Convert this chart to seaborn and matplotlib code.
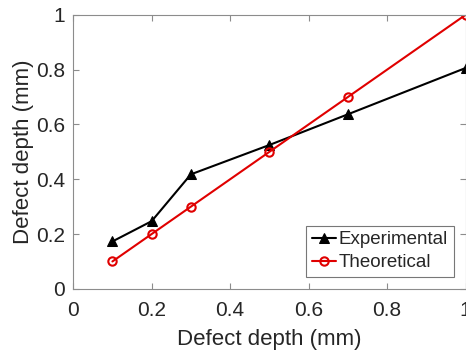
import numpy as np
import pandas as pd
import matplotlib
matplotlib.use("Agg")
import matplotlib.pyplot as plt
import seaborn as sns

# --- data ---
depth_true = [0.1, 0.2, 0.3, 0.5, 0.7, 1.0]
experimental = [0.173, 0.247, 0.418, 0.525, 0.637, 0.806]
theoretical = [0.1, 0.2, 0.3, 0.5, 0.7, 1.0]
tick_vals = [0, 0.2, 0.4, 0.6, 0.8, 1]
tick_labels = ["0", "0.2", "0.4", "0.6", "0.8", "1"]

sns.set_style("white")
plt.rcParams['font.family'] = ['Liberation Sans', 'DejaVu Sans']

text_col = "#262626"
fig = plt.figure(figsize=(4.66, 3.54), dpi=100)
ax = fig.add_axes([0.157, 0.184, 0.842, 0.774])

sns.lineplot(x=depth_true, y=experimental, ax=ax, color="black", lw=1.5,
             marker="^", markersize=7, markerfacecolor="black",
             markeredgecolor="black", label="Experimental")
sns.lineplot(x=depth_true, y=theoretical, ax=ax, color="#e00000", lw=1.5,
             marker="o", markersize=6, markerfacecolor="none",
             markeredgecolor="#e00000", markeredgewidth=1.5, label="Theoretical")

ax.set_xlim(0, 1)
ax.set_ylim(0, 1)
ax.set_xticks(tick_vals)
ax.set_xticklabels(tick_labels)
ax.set_yticks(tick_vals)
ax.set_yticklabels(tick_labels)
for sp in ax.spines.values():
    sp.set_color("#8c8c8c")
    sp.set_linewidth(0.8)
ax.tick_params(direction="in", length=4, width=0.8, color="#8c8c8c",
               labelsize=15, labelcolor=text_col, top=True, right=True,
               bottom=True, left=True)
ax.tick_params(axis="x", pad=9)
ax.tick_params(axis="y", pad=6)
ax.set_xlabel("Defect depth (mm)", fontsize=16, color=text_col, labelpad=6)
ax.set_ylabel("Defect depth (mm)", fontsize=16, color=text_col, labelpad=1)

leg = ax.legend(loc="lower right", bbox_to_anchor=(0.97, 0.044), fontsize=13.5,
                frameon=True, fancybox=False, handlelength=1.3,
                handletextpad=0.15, borderpad=0.3, labelspacing=0.3,
                borderaxespad=0)
leg.get_frame().set_edgecolor("#555555")
leg.get_frame().set_linewidth(0.8)
for t in leg.get_texts():
    t.set_color(text_col)

fig.savefig("out.png", dpi=100)
